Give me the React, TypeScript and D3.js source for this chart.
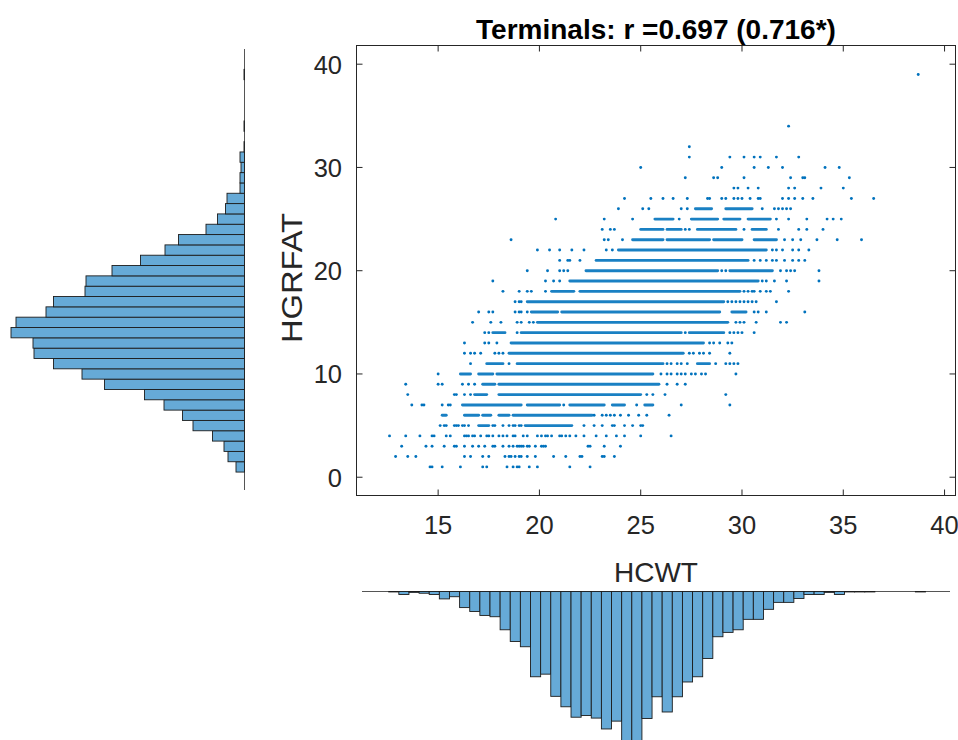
import React from 'react';
import * as d3 from 'd3';

const FONT = '"Liberation Sans", Arial, Helvetica, sans-serif';
const AXIS_COLOR = '#262626';
const DOT_COLOR = '#0072BD';
const BAR_FILL = 'rgb(102,170,215)';
const BAR_EDGE = '#1c1c1c';

const titleText = 'Terminals: r =0.697 (0.716*)';
const xLabel = 'HCWT';
const yLabel = 'HGRFAT';

const xTicks = [15, 20, 25, 30, 35, 40];
const yTicks = [0, 10, 20, 30, 40];

// HGRFAT marginal histogram: one bin per integer value
const fatLevels = [
  1, 2, 3, 4, 5, 6, 7, 8, 9, 10, 11, 12, 13, 14, 15, 16, 17, 18, 19, 20,
  21, 22, 23, 24, 25, 26, 27, 28, 29, 30, 31, 32, 33, 34, 35, 36, 37, 38, 39,
];
const fatCounts = [
  17, 33, 41, 64, 103, 124, 161, 200, 280, 325, 382, 421, 423, 467, 457, 397, 382, 319, 317, 265,
  208, 159, 132, 77, 54, 38, 35, 9, 9, 7, 9, 1, 0, 1, 0, 0, 0, 0, 1,
];

// HCWT marginal histogram: bins of width 0.5 starting at the first edge
const cwtFirstEdge = 12.56;
const cwtBinWidth = 0.5;
const cwtCounts = [
  1, 7, 2, 4, 7, 17, 12, 37, 46, 55, 58, 88, 115, 127, 196, 190, 241, 265, 289, 285,
  291, 316, 298, 375, 368, 292, 242, 277, 242, 208, 196, 154, 104, 94, 88, 64, 64, 41, 25, 25,
  16, 7, 7, 2, 7, 1, 1, 1, 0, 0, 0, 0, 1,
];

// Isolated observations, grouped by HGRFAT value: [HGRFAT, HCWT values]
const scatterRows: [number, number[]][] = [
  [1, [14.6, 14.7, 15.2, 16.1, 17.2, 17.4, 18.4, 18.7, 18.9, 19.0, 19.5, 19.9, 21.5, 22.5]],
  [2, [12.9, 13.5, 13.9, 16.3, 16.6, 17.2, 17.5, 18.3, 18.5, 18.6, 18.8, 19.0, 19.1, 19.4, 19.8, 20.7, 21.3, 22.0, 22.1, 23.1, 23.2, 23.7]],
  [3, [13.2, 14.4, 14.7, 15.3, 15.8, 15.9, 16.3, 16.7, 17.0, 17.3, 17.7, 17.8, 18.2, 18.5, 18.7, 18.9, 19.0, 19.1, 19.2, 19.4, 19.5, 19.8, 20.1, 20.2, 20.3, 22.4, 22.5, 23.2, 24.0]],
  [4, [12.6, 13.4, 14.1, 14.7, 14.8, 15.4, 15.6, 16.3, 16.4, 16.5, 16.7, 16.8, 17.1, 17.4, 17.5, 17.7, 18.0, 18.2, 18.4, 18.7, 18.8, 19.2, 19.4, 19.9, 20.1, 20.3, 20.4, 20.6, 21.0, 21.1, 21.3, 21.5, 21.8, 22.2, 22.8, 23.3, 23.8, 24.2, 25.0, 26.5]],
  [5, [15.1, 15.3, 15.4, 15.8, 15.9, 16.0, 16.2, 16.3, 16.5, 17.7, 17.8, 18.2, 18.5, 18.7, 18.8, 19.0, 19.1, 22.2, 22.7, 23.1, 23.6, 23.7, 24.2, 24.6, 25.0, 25.1]],
  [6, [22.7, 23.1, 23.3, 23.5, 23.7, 24.0, 24.4, 24.9, 25.3, 26.4]],
  [7, [13.7, 14.2, 14.3, 15.2, 15.5, 15.6, 21.2, 24.8, 27.0, 29.4]],
  [8, [13.5, 15.8, 15.9, 16.3, 16.6, 25.3, 25.6, 26.2, 29.2]],
  [9, [13.4, 15.0, 15.2, 16.2, 16.5, 16.8, 26.3, 26.8, 27.2]],
  [10, [15.0, 26.0, 26.3, 26.5, 26.8, 27.0, 27.2, 27.5, 27.7, 28.0, 28.2, 29.7]],
  [11, [16.6, 18.5, 26.3, 26.5, 26.8, 27.0, 27.3, 28.7, 29.2, 29.4, 29.6, 29.8]],
  [12, [16.3, 16.6, 16.8, 17.1, 17.8, 18.0, 18.2, 27.4, 27.6, 27.9, 28.1, 28.4, 29.4]],
  [13, [16.3, 17.3, 17.5, 17.9, 28.4, 28.6, 28.9, 29.3, 29.5]],
  [14, [17.3, 17.5, 18.9, 27.2, 29.4, 29.6, 29.8, 30.0, 30.6]],
  [15, [16.7, 17.6, 18.1, 18.9, 19.1, 19.5, 19.7, 29.7, 29.9, 30.1, 30.7, 31.9, 32.2]],
  [16, [17.0, 17.5, 17.7, 18.8, 19.0, 19.1, 19.4, 30.6, 30.8, 31.2, 33.1]],
  [17, [18.8, 19.0, 19.1, 29.3, 29.5, 29.7, 29.9, 30.1, 30.3, 30.5, 30.7, 31.7]],
  [18, [18.2, 19.0, 19.4, 19.6, 20.3, 30.1, 30.3, 30.5, 30.6, 30.9, 31.2, 31.4, 32.3]],
  [19, [17.7, 20.3, 20.7, 21.0, 31.0, 31.2, 31.6, 32.2, 33.8]],
  [20, [19.4, 20.4, 21.0, 21.2, 21.4, 29.0, 29.2, 31.9, 32.2, 32.4, 32.6, 33.8]],
  [21, [21.0, 21.4, 21.5, 22.0, 30.6, 30.9, 31.2, 31.5, 31.7, 32.1, 32.5, 32.8, 33.1]],
  [22, [19.9, 20.5, 21.0, 21.6, 22.2, 23.3, 23.6, 31.5, 31.7, 32.0, 32.5, 32.8, 33.3]],
  [23, [18.6, 23.2, 23.4, 24.1, 32.1, 32.5, 32.9, 33.7, 34.7, 35.9]],
  [24, [23.1, 23.5, 23.7, 27.2, 27.4, 30.1, 31.8, 32.8, 33.2, 34.0]],
  [25, [20.8, 23.2, 24.6, 26.9, 31.7, 32.3, 33.2, 34.2, 34.5, 34.9]],
  [26, [23.9, 25.1, 25.4, 27.0, 27.3, 31.0, 31.6, 31.8, 32.0, 32.2, 32.4]],
  [27, [24.2, 25.5, 26.1, 26.6, 27.3, 28.3, 28.4, 29.0, 29.2, 29.6, 29.8, 30.0, 30.4, 30.8, 30.9, 32.0, 32.3, 32.6, 33.0, 33.5, 35.4, 36.5]],
  [28, [29.6, 29.8, 30.3, 30.8, 32.3, 32.6, 33.9, 35.0]],
  [29, [27.2, 28.6, 28.8, 30.1, 32.4, 33.0, 33.1, 35.3]],
  [30, [25.0, 29.0, 30.6, 31.3, 32.0, 34.1, 34.8]],
  [31, [27.4, 29.4, 30.1, 30.6, 30.9, 31.7, 32.8]],
  [32, [27.4]],
  [34, [32.3]],
  [39, [38.7]],
];

// Contiguous stretches of overlapping observations: [HGRFAT, HCWT from, HCWT to]
const scatterRuns: [number, number, number][] = [
  [5, 17.0, 17.5], [5, 19.3, 21.6],
  [6, 15.2, 15.4], [6, 16.3, 17.0], [6, 17.2, 17.6], [6, 18.0, 18.5], [6, 18.7, 22.6],
  [7, 16.2, 19.1], [7, 19.4, 21.0], [7, 21.5, 23.2], [7, 23.6, 24.2], [7, 25.2, 25.6],
  [8, 16.8, 17.4], [8, 18.0, 25.0],
  [9, 17.2, 17.8], [9, 18.0, 25.9],
  [10, 16.1, 16.6], [10, 17.0, 17.7], [10, 17.9, 25.6],
  [11, 17.4, 18.2], [11, 18.9, 26.1], [11, 27.8, 28.4],
  [12, 18.5, 27.1],
  [13, 18.6, 28.1],
  [14, 17.7, 18.3], [14, 19.1, 27.0], [14, 27.4, 29.1],
  [15, 19.9, 29.3],
  [16, 19.6, 20.9], [16, 21.1, 28.9], [16, 29.5, 30.2],
  [17, 19.4, 29.1],
  [18, 20.6, 21.7], [18, 22.0, 29.9],
  [19, 21.5, 30.8],
  [20, 22.3, 28.8], [20, 29.4, 31.5],
  [21, 22.8, 30.3],
  [22, 23.9, 31.2],
  [23, 24.6, 26.1], [23, 26.3, 28.4], [23, 28.6, 30.0], [23, 30.6, 31.7],
  [24, 25.0, 26.1], [24, 26.3, 27.0], [24, 27.8, 29.7], [24, 30.5, 31.2],
  [25, 25.7, 26.6], [25, 27.5, 28.8], [25, 29.1, 29.9], [25, 30.3, 31.4],
  [26, 27.7, 28.5], [26, 29.2, 30.5],
];

export default function App() {
  const plotLeft = 356.5;
  const plotRight = 955.5;
  const plotTop = 45.5;
  const plotBottom = 495.5;

  const x = d3.scaleLinear().domain([10.97, 40.54]).range([plotLeft, plotRight]);
  const y = d3.scaleLinear().domain([-1.77, 41.81]).range([plotBottom, plotTop]);

  // marginal histogram geometry
  const fatAxisX = 244.5;
  const fatAxisTop = 49;
  const fatAxisBottom = 490;
  const fatLen = d3.scaleLinear().domain([0, 100]).range([0, 50]);

  const cwtAxisY = 591.5;
  const cwtAxisLeft = 362;
  const cwtAxisRight = 950;
  const cwtLen = d3.scaleLinear().domain([0, 100]).range([0, 43.5]);

  const tickLen = 6;
  const points = scatterRows.flatMap(([fat, cwts]) => cwts.map((c) => [c, fat] as [number, number]));

  return (
    <svg
      width={958}
      height={740}
      viewBox="0 0 958 740"
      style={{ position: 'absolute', left: 0, top: 0, background: '#fff' }}
      fontFamily={FONT}
    >
      <rect x={0} y={0} width={958} height={740} fill="#fff" />

      {/* HGRFAT histogram (bars grow leftwards) */}
      <g>
        <line x1={fatAxisX} x2={fatAxisX} y1={fatAxisTop} y2={fatAxisBottom} stroke="#555" strokeWidth={1} />
        {fatLevels.map((v, i) => {
          const w = fatLen(fatCounts[i]);
          const y0 = y(v + 0.5);
          const y1 = y(v - 0.5);
          return (
            <rect
              key={`f${v}`}
              x={fatAxisX - w}
              y={y0}
              width={w}
              height={y1 - y0}
              fill={BAR_FILL}
              stroke={BAR_EDGE}
              strokeWidth={0.9}
            />
          );
        })}
      </g>

      {/* HCWT histogram (bars hang downwards) */}
      <g>
        <line x1={cwtAxisLeft} x2={cwtAxisRight} y1={cwtAxisY} y2={cwtAxisY} stroke="#555" strokeWidth={1} />
        {cwtCounts.map((c, i) => {
          const e0 = cwtFirstEdge + i * cwtBinWidth;
          const x0 = x(e0);
          const x1 = x(e0 + cwtBinWidth);
          return (
            <rect
              key={`c${i}`}
              x={x0}
              y={cwtAxisY}
              width={x1 - x0}
              height={cwtLen(c)}
              fill={BAR_FILL}
              stroke={BAR_EDGE}
              strokeWidth={0.9}
            />
          );
        })}
      </g>

      {/* scatter */}
      <g>
        {scatterRuns.map(([fat, a, b], i) => (
          <line
            key={`r${i}`}
            x1={x(a)}
            x2={x(b)}
            y1={y(fat)}
            y2={y(fat)}
            stroke={DOT_COLOR}
            strokeOpacity={0.9}
            strokeWidth={2.9}
            strokeLinecap="round"
          />
        ))}
        {points.map(([c, f], i) => (
          <circle key={`p${i}`} cx={x(c)} cy={y(f)} r={1.45} fill={DOT_COLOR} />
        ))}
      </g>

      {/* axes box with inward ticks */}
      <g stroke={AXIS_COLOR} strokeWidth={1} fill="none">
        <rect x={plotLeft} y={plotTop} width={plotRight - plotLeft} height={plotBottom - plotTop} />
        {xTicks.map((t) => (
          <g key={`xt${t}`}>
            <line x1={x(t)} x2={x(t)} y1={plotBottom} y2={plotBottom - tickLen} />
            <line x1={x(t)} x2={x(t)} y1={plotTop} y2={plotTop + tickLen} />
          </g>
        ))}
        {yTicks.map((t) => (
          <g key={`yt${t}`}>
            <line x1={plotLeft} x2={plotLeft + tickLen} y1={y(t)} y2={y(t)} />
            <line x1={plotRight} x2={plotRight - tickLen} y1={y(t)} y2={y(t)} />
          </g>
        ))}
      </g>

      {/* tick labels */}
      <g fill={AXIS_COLOR} fontSize={25.5}>
        {xTicks.map((t) => (
          <text key={`xl${t}`} x={x(t)} y={534} textAnchor="middle">
            {t}
          </text>
        ))}
        {yTicks.map((t) => (
          <text key={`yl${t}`} x={342} y={y(t) + 9.5} textAnchor="end">
            {t}
          </text>
        ))}
      </g>

      {/* axis labels and title */}
      <text x={(plotLeft + plotRight) / 2} y={582} textAnchor="middle" fontSize={28} fill={AXIS_COLOR}>
        {xLabel}
      </text>
      <text
        transform={`translate(302, 278) rotate(-90)`}
        textAnchor="middle"
        fontSize={30}
        textLength={130}
        lengthAdjust="spacingAndGlyphs"
        fill={AXIS_COLOR}
      >
        {yLabel}
      </text>
      <text
        x={(plotLeft + plotRight) / 2}
        y={38.5}
        textAnchor="middle"
        fontSize={28}
        fontWeight="bold"
        fill="#000"
      >
        {titleText}
      </text>
    </svg>
  );
}
